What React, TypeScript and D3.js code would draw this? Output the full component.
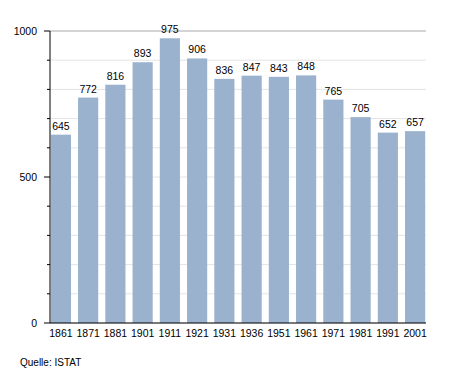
import React from "react";
import * as d3 from "d3";

const years = ["1861", "1871", "1881", "1901", "1911", "1921", "1931", "1936", "1951", "1961", "1971", "1981", "1991", "2001"];
const population = [645, 772, 816, 893, 975, 906, 836, 847, 843, 848, 765, 705, 652, 657];
const majorTicks = [0, 500, 1000];
const source = "Quelle: ISTAT";

const W = 455;
const H = 373;
const left = 50;
const right = 426;
const top = 31;
const bottom = 323;
const font = "Liberation Sans, Arial, sans-serif";

const App = () => {
  const x = d3.scaleBand().domain(years).range([left, right]).paddingInner(0.26).paddingOuter(0.03);
  const y = d3.scaleLinear().domain([0, 1000]).range([bottom, top]);
  const minor = d3.range(0, 1001, 100);

  return (
    <svg width={W} height={H} style={{ position: "absolute", left: 0, top: 0 }} fontFamily={font}>
      <rect width={W} height={H} fill="#fff" />
      {/* grid */}
      {minor.map((v) => (
        <line key={"g" + v} x1={left} x2={right} y1={y(v)} y2={y(v)} stroke={v === 1000 ? "#aaaaaa" : "#e4e4e4"} strokeWidth={1} />
      ))}
      {/* bars */}
      {population.map((v, i) => (
        <g key={years[i]}>
          <rect x={x(years[i])} y={y(v)} width={x.bandwidth()} height={bottom - y(v)} fill="#9ab2cd" />
          <text x={x(years[i])! + x.bandwidth() / 2} y={y(v) - 5} textAnchor="middle" fontSize={10.5} fill="#000">
            {v}
          </text>
          <text x={x(years[i])! + x.bandwidth() / 2} y={bottom + 14} textAnchor="middle" fontSize={10.5} fill="#000">
            {years[i]}
          </text>
        </g>
      ))}
      {/* axes */}
      <line x1={left} x2={left} y1={top} y2={bottom} stroke="#000" />
      <line x1={left} x2={right} y1={bottom} y2={bottom} stroke="#000" />
      {minor.map((v) => (
        <line key={"t" + v} x1={majorTicks.includes(v) ? left - 6 : left - 3} x2={left} y1={y(v)} y2={y(v)} stroke="#000" />
      ))}
      {majorTicks.map((v) => (
        <text key={"l" + v} x={37} y={y(v) + 4} textAnchor="end" fontSize={10.5} fill="#000">
          {v}
        </text>
      ))}
      <text x={20} y={366} fontSize={10} fill="#000">
        {source}
      </text>
    </svg>
  );
};

export default App;
